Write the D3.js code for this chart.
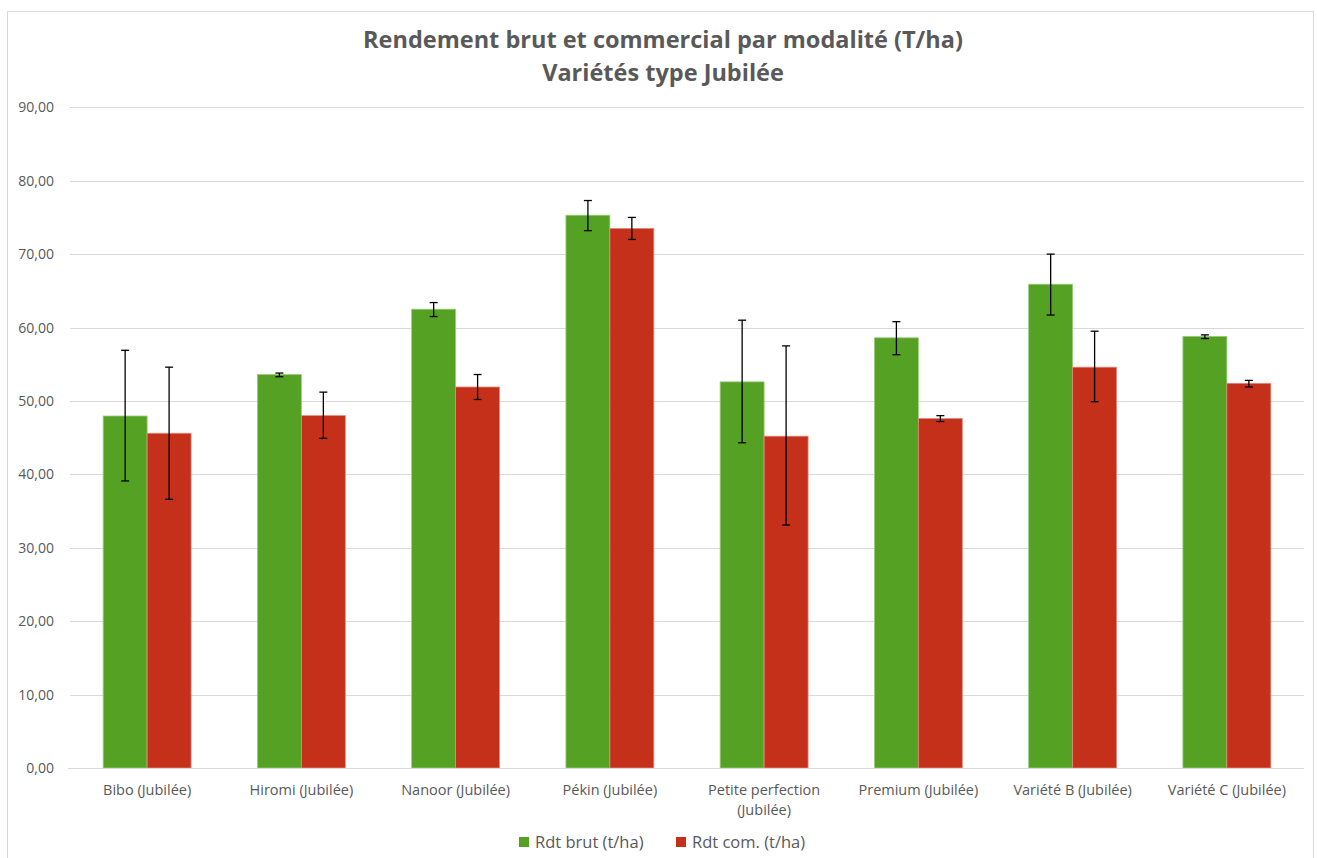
<!DOCTYPE html>
<html><head><meta charset="utf-8">
<script src="https://cdn.jsdelivr.net/npm/d3@7"></script>
<style>body{margin:0;background:#fff;}svg{display:block;font-family:"Open Sans",Lato,sans-serif;}</style>
</head><body>
<svg id="c" width="1317" height="858"></svg>
<script>
const categories = ["Bibo (Jubilée)","Hiromi (Jubilée)","Nanoor (Jubilée)","Pékin (Jubilée)","Petite perfection (Jubilée)","Premium (Jubilée)","Variété B (Jubilée)","Variété C (Jubilée)"];
const seriesNames = ["Rdt brut (t/ha)","Rdt com. (t/ha)"];
const rdtBrut = [47.95, 53.6, 62.5, 75.3, 52.6, 58.6, 65.9, 58.8];
const rdtBrutLow = [39.1, 53.3, 61.5, 73.2, 44.3, 56.3, 61.7, 58.5];
const rdtBrutHigh = [56.9, 53.8, 63.4, 77.3, 61.0, 60.8, 70.0, 59.0];
const rdtCom = [45.6, 48.0, 51.9, 73.5, 45.2, 47.6, 54.6, 52.4];
const rdtComLow = [36.6, 44.9, 50.2, 72.0, 33.1, 47.2, 49.9, 51.9];
const rdtComHigh = [54.6, 51.2, 53.6, 75.0, 57.5, 48.0, 59.5, 52.8];
const yTicks = [0,10,20,30,40,50,60,70,80,90];
const titleLines = ["Rendement brut et commercial par modalité (T/ha)","Variétés type Jubilée"];
const colors = ["#55A123","#C5301A"];

const svg = d3.select("#c");
const plot = {left:70, right:1304, top:107.3, bottom:768};

svg.append("rect").attr("x",7.5).attr("y",11.5).attr("width",1306).attr("height",860)
  .attr("fill","#fff").attr("stroke","#d9d9d9");

const x = d3.scaleBand().domain(categories).range([plot.left, plot.right]).paddingInner(0.43).paddingOuter(0.215);
const x1 = d3.scaleBand().domain([0,1]).range([0, x.bandwidth()]);
const y = d3.scaleLinear().domain([0,90]).range([plot.bottom, plot.top]);

// grid
svg.append("g").selectAll("line").data(yTicks).join("line")
  .attr("x1",plot.left).attr("x2",plot.right)
  .attr("y1",d=>Math.round(y(d))+0.5).attr("y2",d=>Math.round(y(d))+0.5)
  .attr("stroke","#d9d9d9").attr("stroke-width",1);

// y labels
const fmt = v => d3.format(".2f")(v).replace(".", ",");
svg.append("g").selectAll("text").data(yTicks).join("text")
  .attr("x",54).attr("y",d=>y(d)+5).attr("text-anchor","end")
  .attr("font-size",14).attr("fill","#595959").text(fmt);

const data = categories.map((c,i)=>({c, vals:[
  {s:0,v:rdtBrut[i],lo:rdtBrutLow[i],hi:rdtBrutHigh[i]},
  {s:1,v:rdtCom[i],lo:rdtComLow[i],hi:rdtComHigh[i]}]}));

const g = svg.append("g").selectAll("g").data(data).join("g")
  .attr("transform",d=>`translate(${x(d.c)},0)`);
g.selectAll("rect").data(d=>d.vals).join("rect")
  .attr("x",d=>x1(d.s)).attr("width",x1.bandwidth())
  .attr("y",d=>y(d.v)).attr("height",d=>y(0)-y(d.v))
  .attr("fill",d=>colors[d.s]).attr("stroke",d=>d.s===0?"#9ccc7e":"#e08b7c").attr("stroke-width",0.8);

// error bars
const eb = g.selectAll("g.eb").data(d=>d.vals).join("g").attr("class","eb");
eb.append("line").attr("x1",d=>x1(d.s)+x1.bandwidth()/2).attr("x2",d=>x1(d.s)+x1.bandwidth()/2)
  .attr("y1",d=>y(d.lo)).attr("y2",d=>y(d.hi)).attr("stroke","#000").attr("stroke-width",1.3);
["lo","hi"].forEach(k=>{
  eb.append("line").attr("x1",d=>x1(d.s)+x1.bandwidth()/2-4).attr("x2",d=>x1(d.s)+x1.bandwidth()/2+4)
    .attr("y1",d=>y(d[k])).attr("y2",d=>y(d[k])).attr("stroke","#000").attr("stroke-width",1.3);
});

// x axis line
svg.append("line").attr("x1",68).attr("x2",plot.right).attr("y1",768.5).attr("y2",768.5)
  .attr("stroke","#d9d9d9").attr("stroke-width",1);

// x labels
const xl = svg.append("g").selectAll("text").data(categories).join("text")
  .attr("x",d=>x(d)+x.bandwidth()/2).attr("y",795).attr("text-anchor","middle")
  .attr("font-size",14.5).attr("fill","#595959");
xl.each(function(d){
  const t = d3.select(this);
  if (d.startsWith("Petite perfection")) {
    t.append("tspan").attr("x",x(d)+x.bandwidth()/2).attr("dy",0).text("Petite perfection");
    t.append("tspan").attr("x",x(d)+x.bandwidth()/2).attr("dy",20).text("(Jubilée)");
  } else t.text(d);
});

// title
svg.append("g").selectAll("text").data(titleLines).join("text")
  .attr("x",663).attr("y",(d,i)=>48+i*33).attr("text-anchor","middle")
  .attr("font-size",23.5).attr("font-weight","bold").attr("fill","#595959").text(d=>d);

// legend
const legX = [519, 676];
const lg = svg.append("g").selectAll("g").data(seriesNames).join("g")
  .attr("transform",(d,i)=>`translate(${legX[i]},837)`);
lg.append("rect").attr("width",10).attr("height",10).attr("fill",(d,i)=>colors[i]);
lg.append("text").attr("x",16).attr("y",11).attr("font-size",16.5).attr("fill","#595959").text(d=>d);
</script>
</body></html>
